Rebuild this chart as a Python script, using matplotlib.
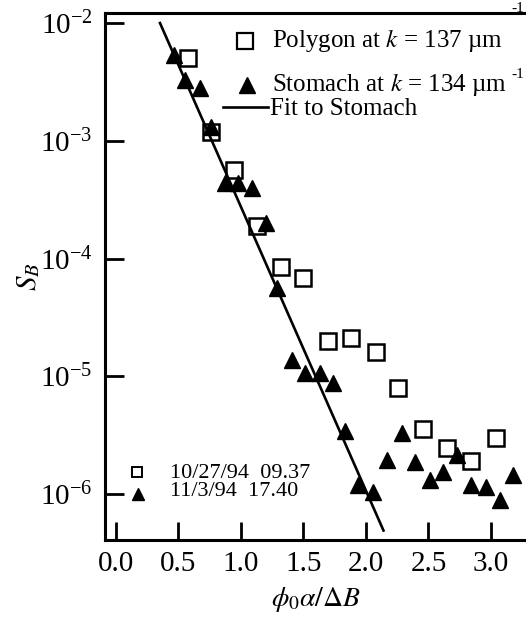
'''
log-scale plot of S_B against phi0*alpha/dB for polygon and stomach runs, with exponential fit
'''

import numpy as np
import matplotlib
matplotlib.use('Agg')
import matplotlib.pyplot as plt
from matplotlib.ticker import NullLocator, FixedLocator

plt.rcParams['font.family'] = 'Liberation Serif'
plt.rcParams['mathtext.fontset'] = 'stix'

# polygon at k = 137 um^-1  (10/27/94 09.37)
poly_x = [0.576, 0.76, 0.944, 1.128, 1.32, 1.50, 1.70, 1.88, 2.08, 2.26, 2.46, 2.65, 2.84, 3.04]
poly_s = [5.0e-3, 1.19e-3, 5.6e-4, 1.9e-4, 8.55e-5, 6.8e-5, 2.0e-5, 2.1e-5, 1.6e-5, 8.0e-6,
          3.6e-6, 2.45e-6, 1.9e-6, 3.0e-6]

# stomach at k = 134 um^-1  (11/3/94 17.40)
stom_x = [0.466, 0.55, 0.67, 0.76, 0.87, 0.98, 1.09, 1.20, 1.29, 1.41, 1.51, 1.63, 1.74,
          1.83, 1.94, 2.06, 2.17, 2.29, 2.39, 2.51, 2.62, 2.73, 2.84, 2.96, 3.07, 3.18]
stom_s = [5.3e-3, 3.3e-3, 2.8e-3, 1.3e-3, 4.4e-4, 4.4e-4, 4.0e-4, 2.0e-4, 5.6e-5, 1.37e-5,
          1.06e-5, 1.07e-5, 8.7e-6, 3.4e-6, 1.2e-6, 1.04e-6, 1.94e-6, 3.3e-6, 1.87e-6,
          1.31e-6, 1.54e-6, 2.15e-6, 1.2e-6, 1.15e-6, 0.89e-6, 1.45e-6]

# fit to stomach: log10(S) = a + b*x
fit_a = -1.152
fit_b = -2.41
fit_range = [0.352, 2.14]

OUT = 'out.png'

fig = plt.figure(figsize=(5.26, 6.22), dpi=100)
ax = fig.add_axes([0.1996, 0.1318, 0.8004, 0.8473])

xf = np.linspace(fit_range[0], fit_range[1], 50)
ax.plot(xf, 10 ** (fit_a + fit_b * xf), color='black', lw=1.9, zorder=2)
ax.plot(stom_x, stom_s, ls='none', marker='^', ms=12, color='black', zorder=3)
ax.plot(poly_x, poly_s, ls='none', marker='s', ms=11.5, mfc='none', mec='black', mew=1.8, zorder=4)

ax.set_yscale('log')
ax.set_xlim(-0.088, 3.28)
ax.set_ylim(10 ** -6.39, 10 ** -1.915)
ax.xaxis.set_major_locator(FixedLocator([0.0, 0.5, 1.0, 1.5, 2.0, 2.5, 3.0]))
ax.set_xticklabels(['0.0', '0.5', '1.0', '1.5', '2.0', '2.5', '3.0'])
ax.yaxis.set_major_locator(FixedLocator([1e-6, 1e-5, 1e-4, 1e-3, 1e-2]))
ax.yaxis.set_minor_locator(NullLocator())
ax.tick_params(axis='x', direction='in', length=13, width=2, labelsize=21, pad=8)
ax.tick_params(axis='y', direction='in', length=14, width=2, labelsize=21, pad=9)
ax.tick_params(top=False, right=False)
for side in ['left', 'bottom', 'top']:
    ax.spines[side].set_linewidth(2.2)
ax.spines['right'].set_visible(False)

ax.set_xlabel(r'$\phi_0\alpha/\Delta B$', fontsize=20, labelpad=6)
ax.set_ylabel(r'$S_B$', fontsize=21, labelpad=-2)

# main key
tr = ax.transAxes
ax.plot([0.3325], [0.947], transform=tr, ls='none', marker='s', ms=11.5, mfc='none', mec='black', mew=1.6)
ax.text(0.397, 0.947, r'Polygon at $k$ = 137 µm', transform=tr, fontsize=18, va='center')
ax.text(0.966, 1.0076, '-1', transform=tr, fontsize=11, va='center', clip_on=False)
ax.plot([0.337], [0.863], transform=tr, ls='none', marker='^', ms=12, color='black')
ax.text(0.397, 0.865, r'Stomach at $k$ = 134 µm', transform=tr, fontsize=18, va='center')
ax.text(0.966, 0.884, '-1', transform=tr, fontsize=11, va='center')
ax.plot([0.280, 0.387], [0.822, 0.822], transform=tr, color='black', lw=1.9)
ax.text(0.392, 0.818, 'Fit to Stomach', transform=tr, fontsize=18, va='center')

# date key
ax.plot([0.076], [0.129], transform=tr, ls='none', marker='s', ms=7, mfc='none', mec='black', mew=1.4)
ax.text(0.154, 0.127, '10/27/94  09.37', transform=tr, fontsize=16, va='center')
ax.plot([0.078], [0.088], transform=tr, ls='none', marker='^', ms=8, color='black')
ax.text(0.154, 0.092, '11/3/94  17.40', transform=tr, fontsize=16, va='center')

plt.savefig(OUT, dpi=100)
